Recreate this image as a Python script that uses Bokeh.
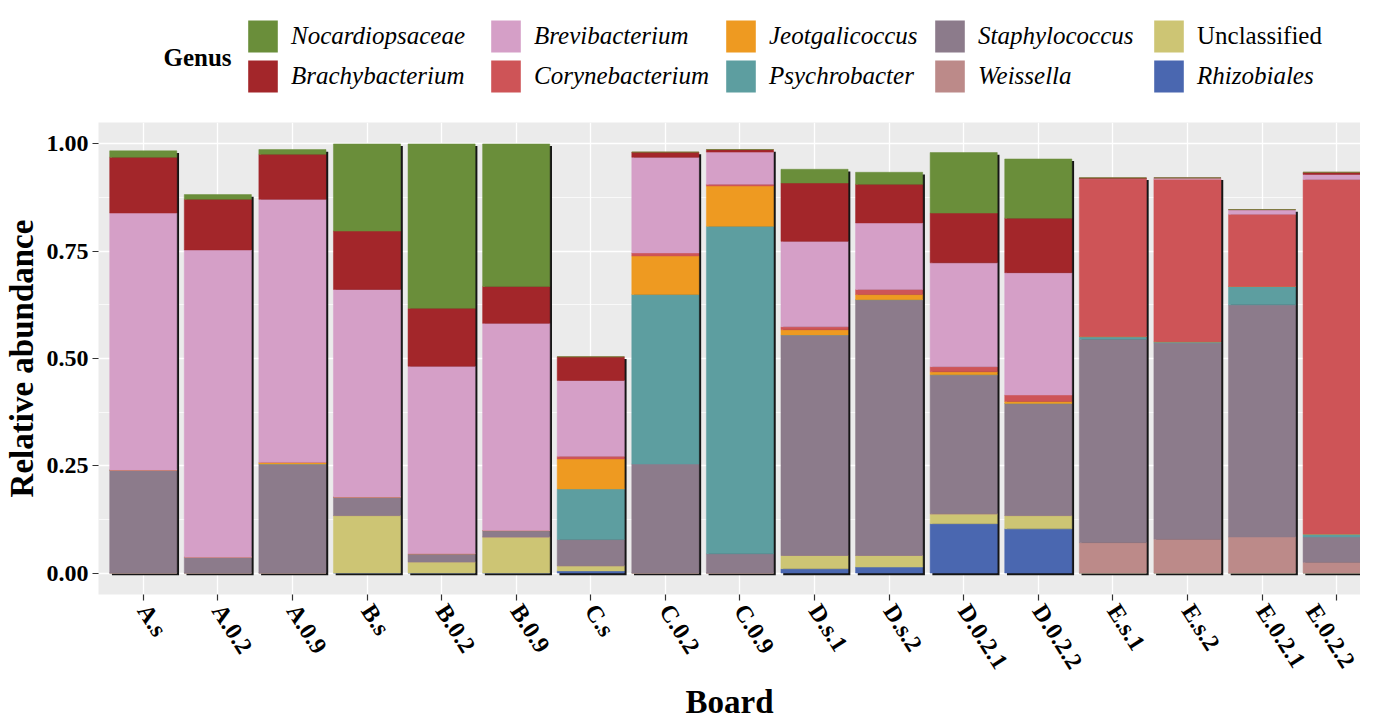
from bokeh.plotting import figure
from bokeh.models import (ColumnDataSource, Range1d, FixedTicker, PrintfTickFormatter,
                          Legend, LegendItem, Label)
from bokeh.transform import dodge
from bokeh.layouts import column
from bokeh.embed import file_html
from bokeh.resources import INLINE

boards = ["A.s", "A.0.2", "A.0.9", "B.s", "B.0.2", "B.0.9", "C.s", "C.0.2", "C.0.9",
          "D.s.1", "D.s.2", "D.0.2.1", "D.0.2.2", "E.s.1", "E.s.2", "E.0.2.1", "E.0.2.2"]

rhizobiales     = [0, 0, 0, 0, 0, 0, 0.005, 0, 0, 0.010, 0.014, 0.115, 0.103, 0, 0, 0, 0]
unclassified    = [0, 0, 0, 0.134, 0.026, 0.084, 0.012, 0, 0, 0.031, 0.027, 0.023, 0.031, 0, 0, 0, 0]
weissella       = [0, 0, 0, 0, 0, 0, 0, 0, 0, 0, 0, 0, 0, 0.071, 0.079, 0.084, 0.025]
staphylococcus  = [0.240, 0.037, 0.254, 0.043, 0.019, 0.015, 0.061, 0.254, 0.045, 0.514, 0.596,
                   0.324, 0.261, 0.474, 0.457, 0.541, 0.059]
psychrobacter   = [0, 0, 0, 0, 0, 0, 0.118, 0.395, 0.763, 0, 0, 0, 0, 0.006, 0.003, 0.043, 0.007]
jeotgalicoccus  = [0, 0, 0.004, 0, 0, 0, 0.070, 0.090, 0.094, 0.012, 0.012, 0.007, 0.005, 0, 0, 0, 0]
corynebacterium = [0, 0, 0, 0, 0, 0, 0.006, 0.007, 0.004, 0.007, 0.012, 0.012, 0.015, 0.368, 0.379,
                   0.168, 0.826]
brevibacterium  = [0.599, 0.716, 0.613, 0.484, 0.437, 0.483, 0.177, 0.223, 0.075, 0.199, 0.155,
                   0.242, 0.285, 0, 0.003, 0.011, 0.012]
brachybacterium = [0.130, 0.118, 0.105, 0.136, 0.135, 0.086, 0.055, 0.012, 0.006, 0.136, 0.090,
                   0.116, 0.127, 0.002, 0, 0, 0.005]
nocardiopsaceae = [0.015, 0.011, 0.011, 0.203, 0.383, 0.332, 0, 0, 0, 0.032, 0.028, 0.141, 0.138,
                   0, 0, 0, 0]

# legend order (column-major, as in the reference)
genera = ["Nocardiopsaceae", "Brachybacterium", "Brevibacterium", "Corynebacterium",
          "Jeotgalicoccus", "Psychrobacter", "Staphylococcus", "Weissella",
          "Unclassified", "Rhizobiales"]
colors = {"Nocardiopsaceae": "#6A8E3A", "Brachybacterium": "#A3262A", "Brevibacterium": "#D59FC7",
          "Corynebacterium": "#CE5457", "Jeotgalicoccus": "#EE9A21", "Psychrobacter": "#5D9EA0",
          "Staphylococcus": "#8C7B8B", "Weissella": "#BC8A89", "Unclassified": "#CDC574",
          "Rhizobiales": "#4A67B0"}
values = {"Nocardiopsaceae": nocardiopsaceae, "Brachybacterium": brachybacterium,
          "Brevibacterium": brevibacterium, "Corynebacterium": corynebacterium,
          "Jeotgalicoccus": jeotgalicoccus, "Psychrobacter": psychrobacter,
          "Staphylococcus": staphylococcus, "Weissella": weissella,
          "Unclassified": unclassified, "Rhizobiales": rhizobiales}

# stacking order bottom -> top
stack_order = ["Rhizobiales", "Unclassified", "Weissella", "Staphylococcus", "Psychrobacter",
               "Jeotgalicoccus", "Corynebacterium", "Brevibacterium", "Brachybacterium",
               "Nocardiopsaceae"]

xs = list(range(1, len(boards) + 1))
data = {"x": xs}
for g in stack_order:
    data[g] = values[g]
totals = [sum(values[g][i] for g in stack_order) for i in range(len(boards))]
data["shadow_top"] = [t - 0.005 for t in totals]
data["shadow_bottom"] = [-0.005] * len(boards)
source = ColumnDataSource(data)

FONT = "Liberation Serif"

p = figure(width=1360, height=604, x_range=Range1d(0.4, 17.32), y_range=Range1d(-0.05, 1.05),
           output_backend="svg", toolbar_location=None,
           min_border_left=90, min_border_right=0, min_border_top=4, min_border_bottom=0)
p.background_fill_color = "#EBEBEB"
p.border_fill_color = "white"
p.outline_line_color = None

# black drop shadow behind each bar (as in the reference)
p.vbar(x=dodge("x", 0.03, range=p.x_range), top="shadow_top", bottom="shadow_bottom", width=0.9,
       source=source, fill_color="#151515", line_color=None)
p.vbar_stack(stack_order, x="x", width=0.9, source=source,
             fill_color=[colors[g] for g in stack_order],
             line_color=[colors[g] for g in stack_order], line_width=0.5)

# axes
p.xaxis.ticker = FixedTicker(ticks=xs)
p.xaxis.major_label_overrides = {x: b for x, b in zip(xs, boards)}
p.xaxis.major_label_orientation = -1.0
p.yaxis.ticker = FixedTicker(ticks=[0, 0.25, 0.5, 0.75, 1.0],
                             minor_ticks=[0.125, 0.375, 0.625, 0.875])
p.yaxis.formatter = PrintfTickFormatter(format="%.2f")
for ax in (p.xaxis, p.yaxis):
    ax.axis_line_color = None
    ax.major_tick_line_color = "#333333"
    ax.major_tick_line_width = 1.2
    ax.major_tick_out = 6
    ax.major_tick_in = 0
    ax.minor_tick_line_color = None
    ax.major_label_text_font = FONT
    ax.major_label_text_font_style = "bold"
    ax.major_label_text_font_size = "24px"
    ax.major_label_text_color = "black"
    ax.axis_label_text_font = FONT
    ax.axis_label_text_font_style = "bold"
    ax.axis_label_text_font_size = "33px"
    ax.axis_label_text_color = "black"
p.xaxis.axis_label = "Board"
p.yaxis.axis_label = "Relative abundance"
p.xaxis.major_label_standoff = 6
p.yaxis.major_label_standoff = 4
p.xaxis.axis_label_standoff = 0
p.yaxis.axis_label_standoff = 4

p.xgrid.grid_line_color = "white"
p.xgrid.grid_line_width = 1.3
p.ygrid.grid_line_color = "white"
p.ygrid.grid_line_width = 1.3
p.ygrid.minor_grid_line_color = "white"
p.ygrid.minor_grid_line_width = 0.7

# legend panel on top (its frame gets aligned with the main frame, 90px from the left)
pl = figure(width=1360, height=118, x_range=Range1d(1000, 1001), y_range=Range1d(1000, 1001),
            output_backend="svg", toolbar_location=None, x_axis_type=None, y_axis_type=None,
            min_border=0)
pl.outline_line_color = None
pl.grid.visible = False
pl.background_fill_color = "white"
pl.border_fill_color = "white"

# legend renderers: same data, kept far outside this panel's visible ranges
key_r = {}
for g in genera:
    key_r[g] = pl.vbar(x="x", top=g, width=0.9, source=source,
                       fill_color=colors[g], line_color=None)

OFF = 90
col_groups = [(244, ["Nocardiopsaceae", "Brachybacterium"], "italic", 22),
              (487, ["Brevibacterium", "Corynebacterium"], "italic", 22),
              (722, ["Jeotgalicoccus", "Psychrobacter"], "italic", 22),
              (931, ["Staphylococcus", "Weissella"], "italic", 22),
              (1150, ["Unclassified"], "normal", 62),
              (1150, ["Rhizobiales"], "italic", 22)]
for lx, names, style, bottom in col_groups:
    leg = Legend(items=[LegendItem(label=n, renderers=[key_r[n]], index=0) for n in names],
                 location=(lx - 8 - OFF, bottom), orientation="vertical",
                 glyph_width=37, glyph_height=40, label_height=40, spacing=0,
                 label_standoff=10, padding=0, margin=0,
                 label_text_font=FONT, label_text_font_style=style,
                 label_text_font_size="25px", label_text_color="black",
                 background_fill_alpha=0, border_line_color=None)
    pl.add_layout(leg)

pl.add_layout(Label(x=163 - 8 - OFF, y=61, x_units="screen", y_units="screen", text="Genus",
                    text_font=FONT, text_font_style="bold", text_font_size="25px",
                    text_baseline="middle", text_color="black"))

layout = column(pl, p, spacing=0)
open("out.html", "w").write(file_html(layout, INLINE))
